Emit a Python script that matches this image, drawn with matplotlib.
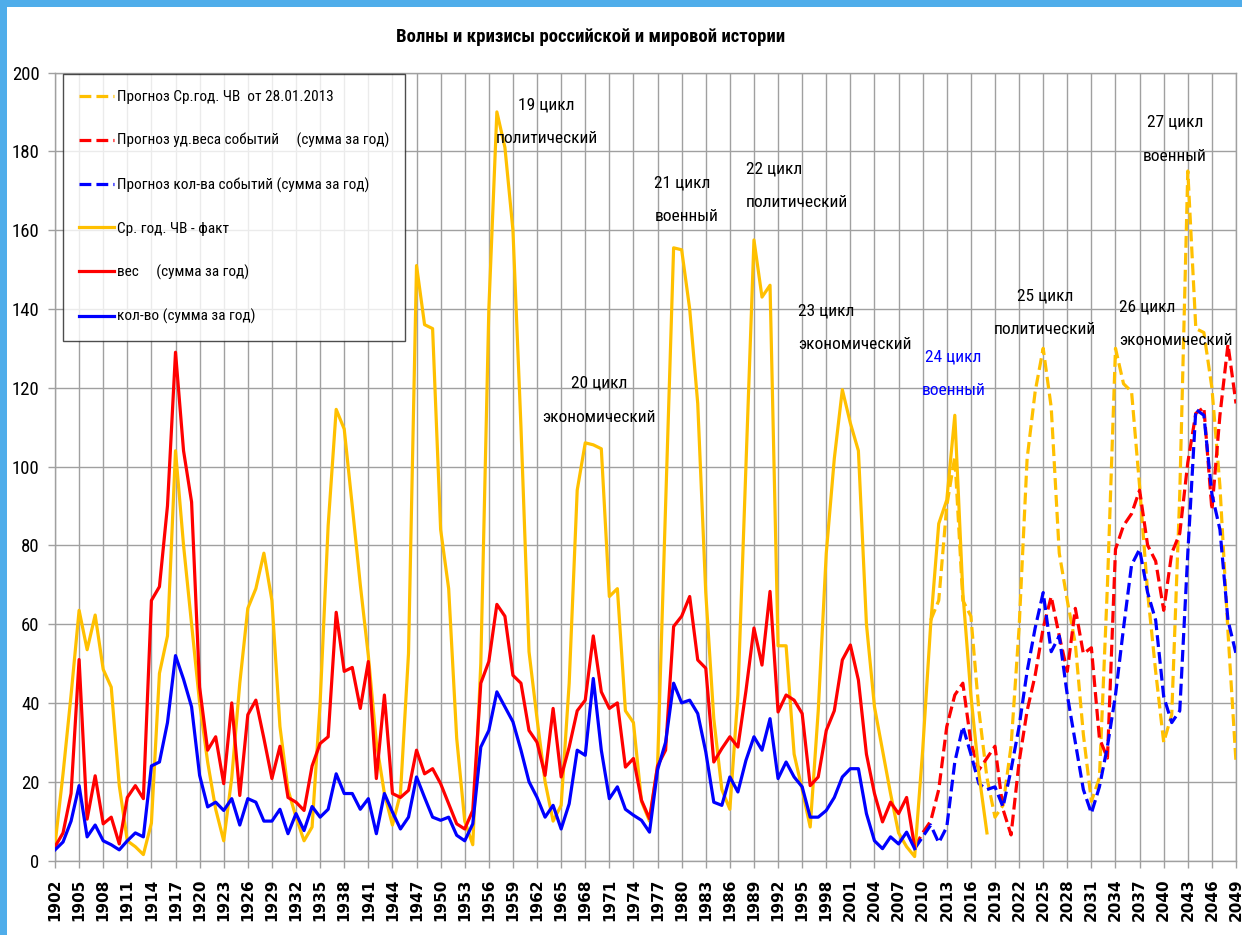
import matplotlib
matplotlib.use("Agg")
import matplotlib.pyplot as plt
from matplotlib.patches import Rectangle
import numpy as np

# ---------------- data ----------------
title = "Волны и кризисы российской и мировой истории"

fact_start = 1902
yellow_fact = [4, 22, 42, 63.5, 53.5, 62.3, 48.5, 44, 19, 5,
               3.5, 1.5, 9.5, 47.5, 57, 104, 80, 60, 40, 25,
               13, 5, 21, 45, 64, 69, 78, 66, 34, 18,
               11, 5, 8.5, 40, 85, 114.5, 109.5, 90, 70, 52,
               30, 17, 9, 17, 52.5, 151, 136, 135, 84, 69,
               31, 10, 4, 50, 140, 190, 181, 160, 110, 53,
               36, 20, 10, 14, 45, 94, 106, 105.5, 104.5, 67,
               69, 38, 35, 15, 10, 24, 90, 155.5, 155, 140,
               116, 68, 36, 18, 13, 42, 100, 157.5, 143, 146,
               54.5, 54.5, 27, 18, 8.5, 38, 78, 102, 119.5, 111,
               104, 60, 39, 28, 17, 7, 3.5, 1, 28, 60,
               85.5, 91.5, 113, 68, 42, 22, 7]          # 1902..2018

red_fact = [3.5, 7, 17, 51, 10.5, 21.5, 9.3, 11, 4.2, 16,
            19, 15.7, 66, 69.5, 90, 129, 104, 91, 44, 28,
            31.4, 19.5, 40, 16.5, 37, 40.7, 31, 20.8, 29, 16,
            14.8, 12.7, 24, 29.7, 31.4, 63, 48, 49, 38.6, 50.5,
            20.8, 42, 17, 16, 17.8, 28, 22, 23.3, 19.5, 14.4,
            9.3, 8, 12.7, 45, 50.5, 65, 62, 47, 45, 33,
            30, 21.6, 38.6, 21.2, 28.8, 38, 40.7, 57, 42.8, 38.6,
            40, 23.7, 25.9, 15.3, 10.6, 24, 28, 59.4, 62, 67,
            50.9, 48.8, 25, 28.4, 31.4, 28.8, 43, 59, 49.6, 68.3,
            37.7, 42, 40.7, 37.3, 19, 21.2, 33, 38, 50.9, 54.7,
            45.8, 27, 17, 9.8, 14.8, 11.9, 16, 3.4]      # 1902..2009

blue_fact = [2.7, 4.7, 10, 19, 6, 9, 5, 4, 2.7, 5,
             7, 6, 24, 25, 35, 52, 46, 39, 21.6, 13.6,
             14.8, 12.7, 15.7, 9, 15.7, 14.8, 10, 10, 13, 6.8,
             11.9, 7.6, 13.7, 11, 13, 22, 17, 17, 13, 15.7,
             6.8, 17, 12.3, 8, 11, 21.2, 16, 11, 10.2, 11,
             6.4, 5, 9.3, 28.8, 33, 42.8, 39, 35.2, 28, 20,
             16, 11, 14, 8, 14.4, 28, 26.7, 46.2, 28, 15.7,
             18.7, 13, 11.5, 10.2, 7.2, 23, 30, 45, 40, 40.7,
             37.3, 27.6, 14.8, 14, 21.2, 17.4, 25.4, 31.4, 28, 36,
             20.8, 25, 21.2, 18.7, 11, 11, 12.7, 16, 21.2, 23.3,
             23.3, 11.9, 5, 3, 6, 4.2, 7.2, 3]            # 1902..2009

yellow_fc_start = 2011
yellow_fc = [61, 66, 90, 102.5, 66, 62, 38, 21, 11, 14,
             29, 59, 102, 119, 130, 115, 78, 66, 55, 32,
             15, 21, 70, 130, 121, 119, 95, 68, 48, 30,
             37, 93, 175, 135, 134, 120, 95, 58, 25]      # 2011..2049

rb_fc_start = 2009
red_fc = [3.4, 7, 10, 18, 34, 42, 45, 30, 23, 26,
          29, 13, 6.5, 25, 38, 47, 59, 67, 57, 48,
          64, 52.5, 54, 31, 26, 79, 85, 88, 94, 80,
          76, 63.5, 78, 83, 101, 113.5, 115, 89, 113, 131, 116]   # 2009..2049

blue_fc = [3, 6, 9, 4.5, 8.5, 25, 34, 27, 19.5, 18,
           18.7, 13.6, 23, 34, 48, 59, 68, 53, 57, 42,
           30, 18, 12, 18.7, 29, 42, 59, 75, 79, 68,
           61, 41.6, 35, 38, 78, 114.5, 113, 93, 84, 61, 52.5]  # 2009..2049

legend_labels = ["Прогноз Ср.год. ЧВ  от 28.01.2013",
                 "Прогноз уд.веса событий     (сумма за год)",
                 "Прогноз кол-ва событий (сумма за год)",
                 "Ср. год. ЧВ - факт",
                 "вес     (сумма за год)",
                 "кол-во (сумма за год)"]

# cycle annotations: (line1, line2, x-year, y-value of line1, ha, color)
cycle_labels = [("19 цикл", "политический", 1963.2, 191.8, "center", "black"),
                ("20 цикл", "экономический", 1969.7, 121.1, "center", "black"),
                ("21 цикл", "военный", 1976.6, 172.0, "left", "black"),
                ("22 цикл", "политический", 1988.0, 175.5, "left", "black"),
                ("23 цикл", "экономический", 1994.5, 139.5, "left", "black"),
                ("24 цикл", "военный", 2013.8, 127.8, "center", "#0000FF"),
                ("25 цикл", "политический", 2025.2, 143.3, "center", "black"),
                ("26 цикл", "экономический", 2034.4, 140.5, "left", "black"),
                ("27 цикл", "военный", 2041.4, 187.4, "center", "black")]

# ---------------- figure ----------------
W, H = 1242, 935
fig = plt.figure(figsize=(W / 100, H / 100), dpi=100)
fig.patch.set_facecolor("#4FADEA")
fig.patches.append(Rectangle((7 / W, 0), (W - 7) / W, (H - 7) / H,
                             transform=fig.transFigure, facecolor="white",
                             edgecolor="none", zorder=-10))

NARROW = ["Roboto Condensed", "Liberation Sans Narrow", "Arial Narrow",
          "Liberation Sans", "DejaVu Sans"]

ax_l, ax_r, ax_t, ax_b = 55, 1236, 72.5, 860.5
ax = fig.add_axes([ax_l / W, 1 - ax_b / H, (ax_r - ax_l) / W, (ax_b - ax_t) / H])
ax.set_facecolor("white")

yrs_fact_y = np.arange(fact_start, fact_start + len(yellow_fact))
yrs_fact_rb = np.arange(fact_start, fact_start + len(red_fact))
yrs_fc_y = np.arange(yellow_fc_start, yellow_fc_start + len(yellow_fc))
yrs_fc_rb = np.arange(rb_fc_start, rb_fc_start + len(red_fc))

YEL, RED, BLU = "#FFC000", "#FF0000", "#0000FF"
lw = 2.3
h1, = ax.plot(yrs_fc_y, yellow_fc, color=YEL, lw=lw, ls="--", zorder=3)
h2, = ax.plot(yrs_fc_rb, red_fc, color=RED, lw=lw, ls="--", zorder=3)
h3, = ax.plot(yrs_fc_rb, blue_fc, color=BLU, lw=lw, ls="--", zorder=3)
h4, = ax.plot(yrs_fact_y, yellow_fact, color=YEL, lw=lw, zorder=4)
h5, = ax.plot(yrs_fact_rb, red_fact, color=RED, lw=lw, zorder=4)
h6, = ax.plot(yrs_fact_rb, blue_fact, color=BLU, lw=lw, zorder=4)

ax.set_xlim(1902, 2049)
ax.set_ylim(0, 200)
ax.set_xticks(np.arange(1902, 2050, 3))
ax.set_yticks(np.arange(0, 201, 20))
ax.grid(True, color="#A0A0A0", lw=1.0)
ax.set_axisbelow(True)
for s in ax.spines.values():
    s.set_color("#A0A0A0")
    s.set_linewidth(1.0)
ax.tick_params(axis="both", color="#A0A0A0", length=5, width=1.0)
ax.tick_params(axis="y", pad=6)
ax.tick_params(axis="x", pad=8)
for lab in ax.get_yticklabels():
    lab.set_family(NARROW)
    lab.set_fontsize(13.5)
for lab in ax.get_xticklabels():
    lab.set_family("DejaVu Sans")
    lab.set_fontweight("bold")
    lab.set_fontsize(11)
    lab.set_rotation(90)

leg = ax.legend([h1, h2, h3, h4, h5, h6], legend_labels,
                loc="upper left", bbox_to_anchor=(62.7 / W, 1 - 74 / H),
                bbox_transform=fig.transFigure, borderaxespad=0,
                prop={"family": NARROW, "size": 11},
                handlelength=2.3, handletextpad=0.2, labelspacing=1.9,
                borderpad=1.05, frameon=True, fancybox=False)
leg.get_frame().set_edgecolor("#202020")
leg.get_frame().set_linewidth(1.0)
leg.set_zorder(6)

# title
fig.text(591 / W, 1 - 37 / H, title, ha="center", va="center",
         fontsize=13.5, fontweight="bold", family=NARROW)

# cycle annotations
for l1, l2, xv, yv, ha, col in cycle_labels:
    ax.text(xv, yv, l1, ha=ha, va="center", fontsize=12.5, color=col,
            family=NARROW, zorder=7)
    ax.text(xv, yv - 8.6, l2, ha=ha, va="center", fontsize=12.5, color=col,
            family=NARROW, zorder=7)

fig.savefig("out.png", dpi=100, facecolor=fig.get_facecolor())
